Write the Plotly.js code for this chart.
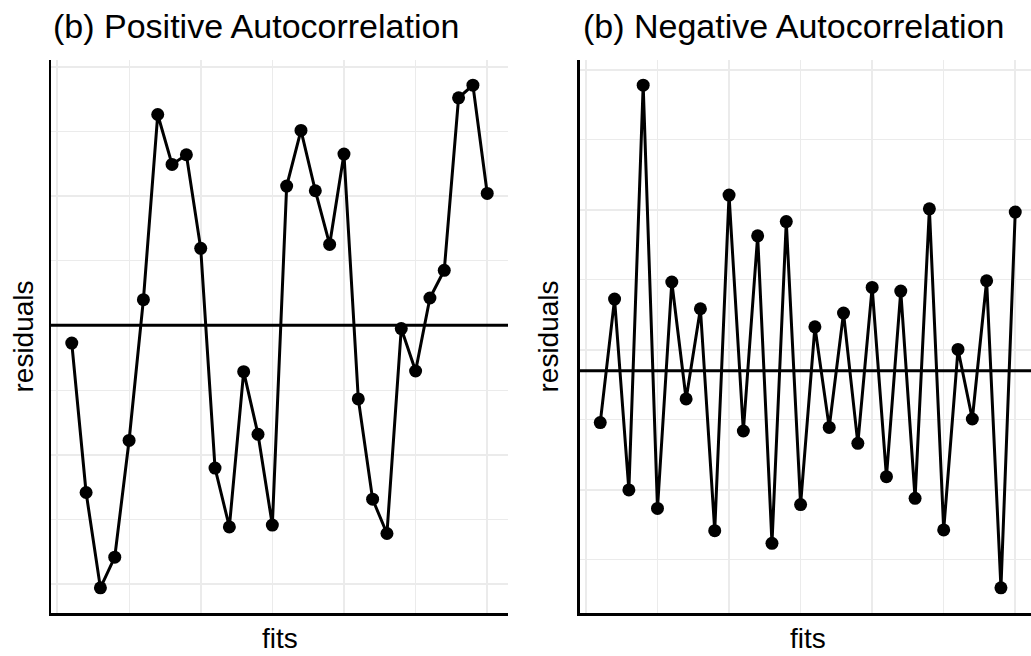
<!DOCTYPE html>
<html>
<head>
<meta charset="utf-8">
<script src="https://cdn.plot.ly/plotly-3.0.1.min.js"></script>
<style>
  html, body { margin: 0; padding: 0; background: #ffffff; overflow: hidden; }
  #chart { width: 1040px; height: 656px; }
</style>
</head>
<body>
<div id="chart"></div>
<script>
// Observation index (fits order)
const fitsIndex = [1,2,3,4,5,6,7,8,9,10,11,12,13,14,15,16,17,18,19,20,21,22,23,24,25,26,27,28,29,30];

// Residuals: positive autocorrelation panel
const positiveResiduals = [
  -0.137, -1.292, -2.029, -1.792, -0.890, 0.198, 1.629, 1.243, 1.318, 0.595,
  -1.103, -1.558, -0.358, -0.842, -1.544, 1.076, 1.506, 1.040, 0.625, 1.323,
  -0.569, -1.344, -1.609, -0.025, -0.353, 0.211, 0.425, 1.758, 1.856, 1.019
];

// Residuals: negative autocorrelation panel
const negativeResiduals = [
  -0.371, 0.512, -0.852, 2.041, -0.984, 0.634, -0.202, 0.443, -1.143, 1.255,
  -0.431, 0.964, -1.234, 1.066, -0.957, 0.314, -0.405, 0.412, -0.519, 0.595,
  -0.757, 0.569, -0.912, 1.157, -1.138, 0.152, -0.345, 0.643, -1.552, 1.134
];

const titles = ["(b) Positive Autocorrelation", "(b) Negative Autocorrelation"];
const xLabel = "fits";
const yLabel = "residuals";

function paddedRange(vals) {
  const mn = Math.min(...vals), mx = Math.max(...vals);
  const pad = (mx - mn) * 0.05;
  return [mn - pad, mx + pad];
}

const W = 1040, H = 656;
const px = v => v / W;
const py = v => 1 - v / H;

const FONT = '"Liberation Sans", Arial, Helvetica, sans-serif';
const GRID = '#ebebeb';

const traceStyle = {
  mode: 'lines+markers',
  line: { color: '#000000', width: 3 },
  marker: { color: '#000000', size: 13 },
  hoverinfo: 'x+y',
  showlegend: false
};

const traces = [
  Object.assign({ x: fitsIndex, y: positiveResiduals, xaxis: 'x', yaxis: 'y' }, traceStyle),
  Object.assign({ x: fitsIndex, y: negativeResiduals, xaxis: 'x2', yaxis: 'y2' }, traceStyle)
];

const xRange = [fitsIndex[0] - 0.05 * (fitsIndex[fitsIndex.length-1] - fitsIndex[0]),
                fitsIndex[fitsIndex.length-1] + 0.05 * (fitsIndex[fitsIndex.length-1] - fitsIndex[0])];

function xAxis(domain, anchor) {
  return {
    domain: domain, anchor: anchor, range: xRange,
    showticklabels: false, ticks: '', zeroline: false,
    showline: true, linecolor: '#000000', linewidth: 2.5,
    showgrid: true, gridcolor: GRID, gridwidth: 2,
    tick0: 0, dtick: 10,
    minor: { showgrid: true, dtick: 5, tick0: 0, gridcolor: GRID, gridwidth: 1 },
    fixedrange: true
  };
}
function yAxis(domain, anchor, range, tick0) {
  return {
    domain: domain, anchor: anchor, range: range,
    showticklabels: false, ticks: '', zeroline: false,
    showline: true, linecolor: '#000000', linewidth: 2.5,
    showgrid: true, gridcolor: GRID, gridwidth: 2,
    tick0: tick0, dtick: 1,
    minor: { showgrid: true, dtick: 0.5, tick0: tick0, gridcolor: GRID, gridwidth: 1 },
    fixedrange: true
  };
}

const yDom = [py(613), py(60)];

const layout = {
  width: W, height: H,
  margin: { l: 0, r: 0, t: 0, b: 0 },
  paper_bgcolor: '#ffffff', plot_bgcolor: '#ffffff',
  font: { family: FONT, color: '#000000' },
  xaxis: xAxis([px(51), px(508)], 'y'),
  yaxis: yAxis(yDom, 'x', paddedRange(positiveResiduals), 0),
  xaxis2: xAxis([px(579.5), px(1036)], 'y2'),
  yaxis2: yAxis(yDom, 'x2', paddedRange(negativeResiduals), 0.15),
  shapes: [
    { type: 'line', xref: 'x domain', yref: 'y', x0: 0, x1: 1, y0: 0, y1: 0,
      line: { color: '#000000', width: 3 } },
    { type: 'line', xref: 'x2 domain', yref: 'y2', x0: 0, x1: 1, y0: 0, y1: 0,
      line: { color: '#000000', width: 3 } }
  ],
  annotations: [
    { text: titles[0], xref: 'paper', yref: 'paper', x: px(51), y: py(26),
      xanchor: 'left', yanchor: 'middle', showarrow: false,
      font: { family: FONT, size: 34, color: '#000000' } },
    { text: titles[1], xref: 'paper', yref: 'paper', x: px(581), y: py(26),
      xanchor: 'left', yanchor: 'middle', showarrow: false,
      font: { family: FONT, size: 34, color: '#000000' } },
    { text: xLabel, xref: 'paper', yref: 'paper', x: px(279.5), y: py(638),
      xanchor: 'center', yanchor: 'middle', showarrow: false,
      font: { family: FONT, size: 28, color: '#000000' } },
    { text: xLabel, xref: 'paper', yref: 'paper', x: px(807.75), y: py(638),
      xanchor: 'center', yanchor: 'middle', showarrow: false,
      font: { family: FONT, size: 28, color: '#000000' } },
    { text: yLabel, xref: 'paper', yref: 'paper', x: px(23), y: py(336.5),
      xanchor: 'center', yanchor: 'middle', textangle: -90, showarrow: false,
      font: { family: FONT, size: 28, color: '#000000' } },
    { text: yLabel, xref: 'paper', yref: 'paper', x: px(548), y: py(336.5),
      xanchor: 'center', yanchor: 'middle', textangle: -90, showarrow: false,
      font: { family: FONT, size: 28, color: '#000000' } }
  ]
};

Plotly.newPlot('chart', traces, layout, { displayModeBar: false, staticPlot: true });
</script>
</body>
</html>
